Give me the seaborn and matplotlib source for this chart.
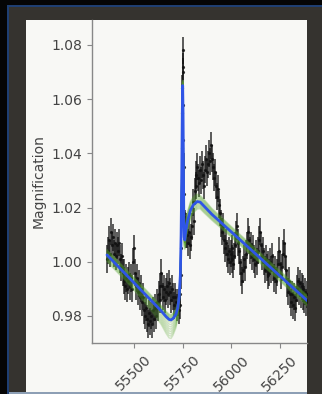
import numpy as np
import matplotlib
matplotlib.use("Agg")
import matplotlib.pyplot as plt
from matplotlib.patches import Rectangle
import seaborn as sns

# ---------------- data ----------------
t_left = [55361, 55366, 55371, 55376, 55381, 55386, 55391, 55396, 55401, 55406,
          55411, 55416, 55421, 55426, 55431, 55436, 55441, 55446, 55451, 55456,
          55461, 55466, 55471, 55476, 55481, 55486, 55491, 55496, 55501, 55506,
          55511, 55516, 55521, 55526, 55531, 55536, 55541, 55546, 55551, 55556,
          55561, 55566, 55571, 55576, 55581, 55586, 55591, 55596, 55601, 55606,
          55611, 55616, 55621, 55626, 55631, 55636, 55641, 55646, 55651, 55656,
          55661, 55666, 55671, 55676, 55681, 55686, 55691, 55696, 55701, 55706,
          55711, 55716, 55721, 55726, 55731, 55736]
m_left = [1.001, 1.004, 1.008, 1.003, 1.011, 1.006, 1.009, 1.003, 1.007, 1.002,
          1.006, 1.004, 1.007, 1.001, 0.998, 1.002, 0.996, 0.993, 0.996, 0.991,
          0.994, 0.990, 0.993, 0.995, 0.991, 0.994, 0.990, 1.000, 1.005, 0.996,
          0.991, 0.994, 0.989, 0.992, 0.987, 0.990, 0.985, 0.987, 0.982, 0.980,
          0.983, 0.979, 0.977, 0.981, 0.978, 0.980, 0.977, 0.982, 0.979, 0.983,
          0.980, 0.985, 0.983, 0.988, 0.986, 0.991, 0.996, 0.991, 0.987, 0.990,
          0.986, 0.989, 0.991, 0.988, 0.992, 0.989, 0.986, 0.990, 0.987, 0.984,
          0.987, 0.985, 0.983, 0.985, 0.982, 0.984]

t_spike = [55738, 55740, 55742, 55744, 55746, 55747, 55748, 55749, 55750, 55751,
           55752, 55753, 55754, 55755, 55757, 55759, 55761, 55763, 55765, 55768]
m_spike = [0.988, 0.995, 1.005, 1.018, 1.030, 1.042, 1.055, 1.064, 1.072, 1.078,
           1.070, 1.058, 1.045, 1.035, 1.025, 1.018, 1.014, 1.012, 1.010, 1.013]

t_right = [55771, 55776, 55781, 55786, 55791, 55796, 55801, 55806, 55811, 55816,
           55821, 55826, 55831, 55836, 55841, 55846, 55851, 55856, 55861, 55866,
           55871, 55876, 55881, 55886, 55891, 55896, 55901, 55906, 55911, 55916,
           55921, 55926, 55931, 55936, 55941, 55946, 55951, 55956, 55961, 55966,
           55971, 55976, 55981, 55986, 55991, 55996, 56001, 56006, 56011, 56016,
           56021, 56026, 56031, 56036, 56041, 56046, 56051, 56056, 56061, 56066,
           56071, 56076, 56081, 56086, 56091, 56096, 56101, 56106, 56111, 56116,
           56121, 56126, 56131, 56136, 56141, 56146, 56151, 56156, 56161, 56166,
           56171, 56176, 56181, 56186, 56191, 56196, 56201, 56206, 56211, 56216,
           56221, 56226, 56231, 56236, 56241, 56246, 56251, 56256, 56261, 56266,
           56271, 56276, 56281, 56286, 56291, 56296, 56301, 56306, 56311, 56316,
           56321, 56326, 56331, 56336, 56341, 56346, 56351, 56356, 56361, 56366,
           56371, 56376, 56381, 56386, 56391, 56396]
m_right = [1.010, 1.007, 1.011, 1.006, 1.009, 1.013, 1.022, 1.015, 1.026, 1.032,
           1.028, 1.035, 1.031, 1.029, 1.034, 1.030, 1.036, 1.032, 1.028, 1.034,
           1.038, 1.033, 1.036, 1.040, 1.037, 1.043, 1.038, 1.035, 1.031, 1.033,
           1.028, 1.024, 1.027, 1.021, 1.018, 1.014, 1.011, 1.013, 1.008, 1.005,
           1.007, 1.003, 1.001, 1.004, 1.000, 1.003, 1.005, 1.001, 0.999, 1.002,
           1.006, 1.010, 1.013, 1.007, 1.004, 1.000, 0.996, 0.993, 0.997, 1.001,
           0.998, 1.003, 1.006, 1.011, 1.008, 1.004, 1.006, 1.002, 1.005, 1.001,
           0.999, 1.003, 1.000, 1.004, 1.008, 1.011, 1.006, 1.002, 1.004, 1.000,
           0.997, 1.001, 0.998, 0.995, 0.999, 0.996, 1.000, 0.997, 1.002, 0.998,
           0.994, 0.997, 0.993, 0.996, 0.999, 1.004, 0.999, 0.995, 0.998, 1.003,
           1.007, 1.002, 0.997, 0.992, 0.989, 0.993, 0.988, 0.985, 0.988, 0.984,
           0.987, 0.983, 0.986, 0.990, 0.993, 0.989, 0.992, 0.988, 0.991, 0.987,
           0.990, 0.986, 0.989, 0.985, 0.988, 0.986]
mag_err = 0.005

model_t = [55361, 55400, 55450, 55500, 55550, 55600, 55640, 55665, 55680, 55690,
           55700, 55715, 55725, 55732, 55738, 55742, 55745, 55748, 55750, 55752,
           55754, 55756, 55758, 55761, 55765, 55775, 55790, 55805, 55825, 55840,
           55860, 55900, 56000, 56100, 56200, 56300, 56400]
model_m = [1.0025, 0.9996, 0.9959, 0.9922, 0.9885, 0.9848, 0.9818, 0.9797, 0.9787, 0.9785,
           0.9790, 0.9805, 0.9830, 0.9870, 0.9950, 1.0100, 1.0300, 1.0550, 1.0650, 1.0550,
           1.0350, 1.0150, 1.0090, 1.0080, 1.0110, 1.0150, 1.0190, 1.0210, 1.0222, 1.0220,
           1.0205, 1.0175, 1.0110, 1.0045, 0.9980, 0.9915, 0.9850]
# spread of posterior samples below / above the model
band_lo = [0.0025, 0.0025, 0.0025, 0.0028, 0.0032, 0.0040, 0.0050, 0.0062, 0.0068, 0.0068,
           0.0062, 0.0050, 0.0040, 0.0030, 0.0025, 0.0025, 0.0025, 0.0025, 0.0025, 0.0025,
           0.0030, 0.0035, 0.0035, 0.0035, 0.0035, 0.0035, 0.0032, 0.0030, 0.0028, 0.0025,
           0.0025, 0.0022, 0.0020, 0.0020, 0.0020, 0.0020, 0.0020]
band_hi = [0.0020, 0.0020, 0.0020, 0.0020, 0.0020, 0.0020, 0.0020, 0.0020, 0.0020, 0.0020,
           0.0020, 0.0020, 0.0020, 0.0020, 0.0020, 0.0020, 0.0020, 0.0020, 0.0020, 0.0025,
           0.0030, 0.0035, 0.0035, 0.0035, 0.0035, 0.0035, 0.0032, 0.0030, 0.0028, 0.0025,
           0.0025, 0.0022, 0.0020, 0.0020, 0.0020, 0.0020, 0.0020]

y_ticks = [0.98, 1.00, 1.02, 1.04, 1.06, 1.08]
x_ticks = [55500, 55750, 56000, 56250]

# ---------------- figure ----------------
sns.set_style("ticks")
plt.rcParams['font.family'] = ['DejaVu Sans']

W, H = 322, 394
fig = plt.figure(figsize=(W / 100, H / 100), dpi=100)
fig.patch.set_facecolor("#35332f")

def px_rect(x0, y0, x1, y1, color, z=0):
    fig.add_artist(Rectangle((x0 / W, 1 - y1 / H), (x1 - x0) / W, (y1 - y0) / H,
                             transform=fig.transFigure, facecolor=color,
                             edgecolor="none", zorder=z))

px_rect(0, 0, 7, H, "#050505")
px_rect(0, 0, W, 5, "#050505")
px_rect(7, 5, 8.5, H, "#1f3f72")
px_rect(7, 5, W, 6.5, "#1f3f72")
px_rect(26, 20, 307, H, "#f8f8f5")
px_rect(8.5, 392, 307, H, "#8d9fb5")

ax = fig.add_axes([92 / W, 51 / H, 215 / W, 323 / H])
ax.set_facecolor("#f8f8f5")
ax.patch.set_alpha(0)

# data points with error bars
t_all = np.array(t_left + t_spike + t_right)
m_all = np.array(m_left + m_spike + m_right)
ax.errorbar(t_all, m_all, yerr=mag_err, fmt="o", ms=1.3, color="#111111",
            ecolor="#111111", elinewidth=1.2, alpha=0.8, capsize=0, zorder=2)

# posterior samples (green band)
mt = np.array(model_t)
mm = np.array(model_m)
lo = np.array(band_lo)
hi = np.array(band_hi)
for f in np.linspace(-1, 1, 17):
    off = np.where(f < 0, f * lo, f * hi)
    ax.plot(mt, mm + off, color="#56a52c", lw=1.0, alpha=0.25, zorder=3)

# model
sns.lineplot(x=model_t, y=model_m, sort=False, estimator=None, ax=ax,
             color="#2f55e6", lw=2.0, zorder=4)

ax.set_xlim(55284, 56389)
ax.set_ylim(0.970, 1.0892)
ax.set_yticks(y_ticks)
ax.set_yticklabels([f"{v:.2f}" for v in y_ticks])
ax.set_xticks(x_ticks)
ax.set_xticklabels([str(v) for v in x_ticks], rotation=45)
ax.tick_params(labelsize=10, colors="#444444", length=3.5, width=0.8,
               color="#888888")
ax.set_ylabel("Magnification", fontsize=10, color="#444444")
for s in ["top", "right"]:
    ax.spines[s].set_visible(False)
for s in ["left", "bottom"]:
    ax.spines[s].set_color("#888888")
    ax.spines[s].set_linewidth(1.0)

fig.savefig("out.png", dpi=100, facecolor=fig.get_facecolor())
